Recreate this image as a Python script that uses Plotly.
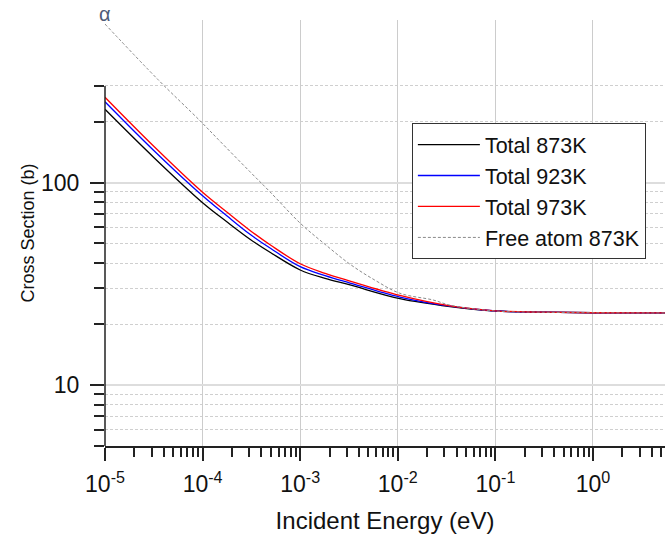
import plotly.graph_objects as go

# ---------------- data ----------------
energy_total = [1e-5, 3.16e-5, 1e-4, 1.77e-4, 3.06e-4, 5e-4, 1e-3, 1.8e-3,
                3.24e-3, 1.05e-2, 3.43e-2, 0.1, 0.29, 1.0, 5.5]
total_873 = [229.9, 133, 79.5, 64.0, 52.5, 45.0, 37.0, 33.6,
             31.2, 26.7, 24.4, 23.2, 22.9, 22.75, 22.7]
total_923 = [250.6, 144, 86.0, 68.5, 55.5, 47.2, 38.4, 34.7,
             31.9, 27.2, 24.5, 23.2, 22.9, 22.75, 22.7]
total_973 = [263.6, 151, 89.5, 71.5, 58.0, 49.0, 39.7, 35.6,
             32.6, 27.7, 24.6, 23.25, 22.9, 22.75, 22.7]

energy_free = [1e-5, 3.52e-5, 9.4e-5, 1.45e-4, 3.06e-4, 4.9e-4, 1e-3, 1.8e-3,
               3.24e-3, 5.8e-3, 1.05e-2, 2.3e-2, 3.43e-2, 0.1, 0.29, 1.0, 5.5]
free_873 = [606, 321, 202, 163, 113, 90, 63.0, 49.5,
            39.5, 33.0, 28.4, 26.3, 24.8, 23.2, 22.9, 22.75, 22.7]

x_major = [1e-5, 1e-4, 1e-3, 1e-2, 1e-1, 1e0]
x_major_text = ["10<sup>-5</sup>", "10<sup>-4</sup>", "10<sup>-3</sup>",
                "10<sup>-2</sup>", "10<sup>-1</sup>", "10<sup>0</sup>"]
x_minor = [m * 10.0 ** k for k in range(-5, 1) for m in range(2, 10)]
y_major = [10, 100]
y_major_text = ["10", "100"]
y_minor = [5, 6, 7, 8, 9, 20, 30, 40, 50, 60, 70, 80, 90, 200, 300]
y_top = 300

FONT = "Liberation Sans, Arial, sans-serif"

fig = go.Figure()
line_kw = dict(shape="spline", smoothing=1.0)
fig.add_trace(go.Scatter(x=energy_total, y=total_873, mode="lines", name="Total 873K",
                         line=dict(color="#000000", width=1.3, **line_kw)))
fig.add_trace(go.Scatter(x=energy_total, y=total_923, mode="lines", name="Total 923K",
                         line=dict(color="#0000ff", width=1.3, **line_kw)))
fig.add_trace(go.Scatter(x=energy_total, y=total_973, mode="lines", name="Total 973K",
                         line=dict(color="#ff0000", width=1.3, **line_kw)))
fig.add_trace(go.Scatter(x=energy_free, y=free_873, mode="lines", name="Free atom 873K",
                         line=dict(color="#8a8a8a", width=1, dash="3px,2px", **line_kw)))

fig.update_layout(
    width=665, height=539,
    margin=dict(l=105, r=0, t=20, b=93),
    paper_bgcolor="white", plot_bgcolor="white",
    font=dict(family=FONT, color="#111111"),
    showlegend=True,
    legend=dict(x=0.548, y=0.758, xanchor="left", yanchor="top",
                bgcolor="white", bordercolor="#333333", borderwidth=1,
                font=dict(size=21.5, family=FONT, color="#111111"),
                itemwidth=62, tracegroupgap=0),
)

fig.update_xaxes(
    type="log", range=[-5, 0.738],
    tickmode="array", tickvals=x_major, ticktext=x_major_text,
    tickfont=dict(size=23, family=FONT), ticklabelstandoff=4,
    ticks="outside", ticklen=13, tickwidth=1.5, tickcolor="#222222",
    showline=True, linecolor="#222222", linewidth=1.5,
    showgrid=True, gridcolor="#cccccc", gridwidth=1,
    minor=dict(tickmode="array", tickvals=x_minor, ticks="outside", ticklen=9,
               tickwidth=1.5, tickcolor="#222222", showgrid=False),
    title=dict(text="Incident Energy (eV)", font=dict(size=24, family=FONT), standoff=16),
    zeroline=False,
)

fig.update_yaxes(
    type="log", range=[0.699, 2.8025],
    tickmode="array", tickvals=y_major, ticktext=y_major_text,
    tickfont=dict(size=23, family=FONT), ticklabelstandoff=6,
    ticks="outside", ticklen=14, tickwidth=1.5, tickcolor="#222222",
    showline=False,
    showgrid=True, gridcolor="#dddddd", gridwidth=2,
    minor=dict(tickmode="array", tickvals=y_minor, ticks="outside", ticklen=10,
               tickwidth=1.5, tickcolor="#222222",
               showgrid=True, gridcolor="#cfcfcf", gridwidth=1, griddash="3px,2px"),
    title=dict(text="Cross Section (b)", font=dict(size=18, family=FONT), standoff=1),
    zeroline=False,
)

# white mask above the top of the axis frame (hides grid, keeps traces visible)
fig.add_shape(type="rect", xref="paper", x0=0, x1=1, yref="y", y0=297, y1=2000,
              fillcolor="white", line=dict(width=0), layer="between")
# y axis line, only up to the top of the frame
fig.add_shape(type="line", xref="paper", x0=0, x1=0, yref="y", y0=5, y1=y_top,
              line=dict(color="#222222", width=1.5), layer="above")

fig.add_annotation(text="α", xref="paper", yref="paper", x=0, y=1.014,
                   xanchor="center", yanchor="middle", showarrow=False,
                   font=dict(size=20, family=FONT, color="#4f5b78"))

fig.write_html("out.html")
